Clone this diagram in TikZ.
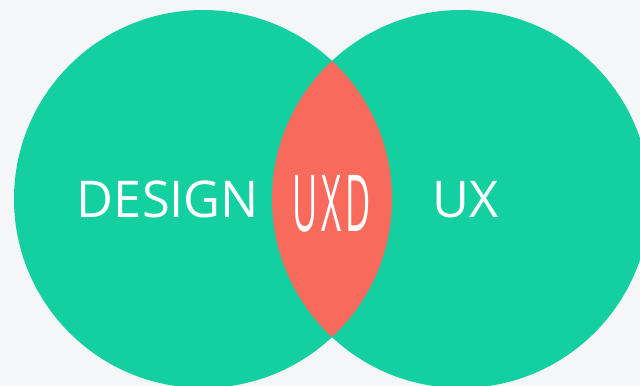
\documentclass[tikz,border=0pt]{standalone}
\usepackage{fontspec}
\setmainfont{Open Sans}
\usepackage{xcolor}
\definecolor{venngreen}{HTML}{14CFA0}
\definecolor{vennred}{HTML}{F76A5C}
\definecolor{vennback}{HTML}{F5F6F8}

\begin{document}
\begin{tikzpicture}[x=0.75pt,y=-0.75pt]
			\tikzstyle{set} = [fill=venngreen]
			\tikzstyle{overlap} = [fill=vennred]
			\tikzstyle{label} = [text=white,inner sep=0pt,font=\fontsize{38}{38}\selectfont]
			\fill[vennback] (0,0) rectangle (640,386);
			\useasboundingbox (0,0) rectangle (640,386);
			\coordinate (cdesign) at (203,199);
			\coordinate (cux) at (461,199);
			\fill[set] (cdesign) circle (189);
			\fill[set] (cux) circle (189);
			\begin{scope}
				\clip (cdesign) circle (189);
				\fill[overlap] (cux) circle (189);
			\end{scope}
			\node[label,anchor=base] (design) at (168,217) {DESIGN};
			\node[label,anchor=base] (ux) at (466,217) {UX};
			\node[label] (uxd) at (331.5,204) {\scalebox{0.52}[1.18]{\fontsize{50}{50}\selectfont U\hspace{6pt}X\hspace{6pt}D}};
\end{tikzpicture}
\end{document}
